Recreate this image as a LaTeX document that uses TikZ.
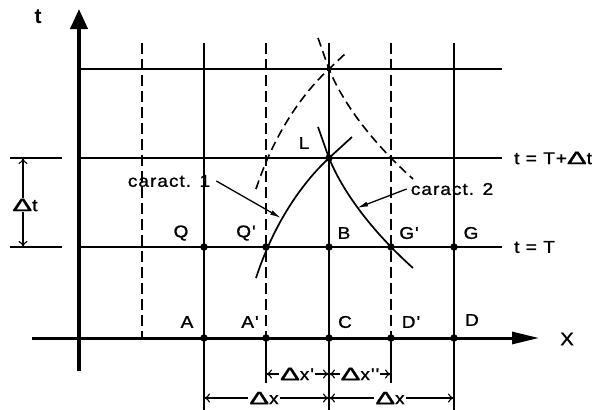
\documentclass[tikz,border=0pt]{standalone}
\usepackage{fontspec}
\setmainfont{Liberation Sans}
\newfontfamily\lblfont[LetterSpace=6,FakeBold=1.2,FakeStretch=1.12]{Liberation Sans}
\usetikzlibrary{arrows.meta}
\newcommand\Dl{\scalebox{1.55}[1.05]{Δ}}
\begin{document}
\begin{tikzpicture}[x=1pt,y=-1pt,
  gridline/.style={line width=1.4pt},
  dgrid/.style={line width=1.5pt, dash pattern=on 11pt off 5pt},
  dcurve/.style={line width=1.6pt, dash pattern=on 9pt off 5pt},
  ccurve/.style={line width=1.7pt},
  lbl/.style={font=\fontsize{17}{19}\selectfont\lblfont, inner sep=1pt},
  dimlbl/.style={lbl, fill=white, inner sep=1.2pt},
  dot/.style={circle, fill=black, inner sep=0pt, minimum size=7.5pt},
  sdot/.style={circle, fill=black, inner sep=0pt, minimum size=5pt},
  dimarrow/.style={line width=1.1pt, {To[length=6pt,width=9pt]}-{To[length=6pt,width=9pt]}},
  ptr/.style={line width=1.3pt, -{Latex[length=11pt,width=5pt]}},
]
\useasboundingbox (0,0) rectangle (606,410);

% grid points
\coordinate (topV) at (329,69);
\coordinate (L) at (329,158);
\coordinate (Q) at (204,247);
\coordinate (Qp) at (266,247);
\coordinate (B) at (329,247);
\coordinate (Gp) at (391,247);
\coordinate (G) at (454,247);
\coordinate (A) at (204,338);
\coordinate (Ap) at (266,338);
\coordinate (C) at (329,338);
\coordinate (Dp) at (391,338);
\coordinate (D) at (454,338);

% horizontal grid lines
\draw[gridline] (79,69) -- (502,69);
\draw[gridline] (79,158) -- (502,158);
\draw[gridline] (79,247) -- (502,247);

% solid vertical lines (with extension below axis)
\draw[gridline] (204,43) -- (204,410);
\draw[gridline] (329,43) -- (329,410);
\draw[gridline] (454,43) -- (454,410);
% dashed vertical lines
\draw[dgrid] (142,43) -- (142,338);
\draw[dgrid] (266,43) -- (Ap);
\draw[dgrid] (391,43) -- (Dp);
\draw[gridline] (Ap) -- (266,383);
\draw[gridline] (Dp) -- (391,383);

% axes
\draw[line width=3pt, -{Triangle[length=27pt,width=12pt]}] (32,338) -- (539,338);
\draw[line width=4pt, -{Triangle[length=20pt,width=17pt]}] (79,371) -- (79,9);
\node[font=\fontsize{21}{22}\selectfont\bfseries] (tlab) at (38,17) {t};
\node[font=\fontsize{18}{19}\selectfont\lblfont] (xlab) at (567,339) {X};

% characteristics (dashed, previous step)
\draw[dcurve] (256,189) .. controls (273,137) and (300,96) .. (topV) -- (346,53);
\draw[dcurve] (318,38) .. controls (322,49) and (326,61) .. (topV) .. controls (340,96) and (365,136) .. (413,179);
% characteristics (solid)
\draw[ccurve] (256,278) .. controls (273,226) and (300,185) .. (L) -- (352,137);
\draw[ccurve] (318,127) .. controls (322,138) and (326,150) .. (L) .. controls (340,185) and (365,225) .. (413,268);

% dots
\foreach \p in {Q,Qp,B,Gp,G,A,Ap,C,Dp,D,L} \node[dot] at (\p) {};
\node[sdot] at (topV) {};

% point labels
\node[lbl] (lQ) at (181,233) {Q};
\node[lbl] (lQp) at (246,233) {Q'};
\node[lbl] (lB) at (344,233) {B};
\node[lbl] (lGp) at (409,233) {G'};
\node[lbl] (lG) at (471,233) {G};
\node[lbl] (lL) at (304,143) {L};
\node[lbl] (lA) at (187,322) {A};
\node[lbl] (lAp) at (250,322) {A'};
\node[lbl] (lC) at (345,322) {C};
\node[lbl] (lDp) at (411,322) {D'};
\node[lbl] (lD) at (472,320) {D};

% level labels
\node[lbl, anchor=west] (lTdt) at (513,158) {t = T+\Dl t};
\node[lbl, anchor=west] (lT) at (513,247) {t = T};

% characteristic labels and pointers
\node[lbl] (c1) at (169,181) {caract. 1};
\node[lbl] (c2) at (452,189) {caract. 2};
\coordinate (k1) at (281,218);
\coordinate (k2) at (357,208);
\draw[ptr] (c1.east) ++(5,0) -- (k1);
\draw[ptr] (c2.west) ++(-3,0) -- (k2);

% delta t dimension
\draw[gridline] (10,158) -- (62,158);
\draw[gridline] (10,247) -- (62,247);
\draw[dimarrow] (23,158) -- (23,247);
\node[dimlbl] (dt) at (25,205) {\Dl t};

% delta x dimensions
\draw[dimarrow] (Ap |- 0,374) -- (C |- 0,374);
\draw[dimarrow] (C |- 0,374) -- (Dp |- 0,374);
\draw[dimarrow] (A |- 0,398) -- (C |- 0,398);
\draw[dimarrow] (C |- 0,398) -- (D |- 0,398);
\node[dimlbl] (dxp) at (297,374) {\Dl x'};
\node[dimlbl] (dxpp) at (360,374) {\Dl x''};
\node[dimlbl] (dx1) at (264,398) {\Dl x};
\node[dimlbl] (dx2) at (390,398) {\Dl x};
\end{tikzpicture}
\end{document}
